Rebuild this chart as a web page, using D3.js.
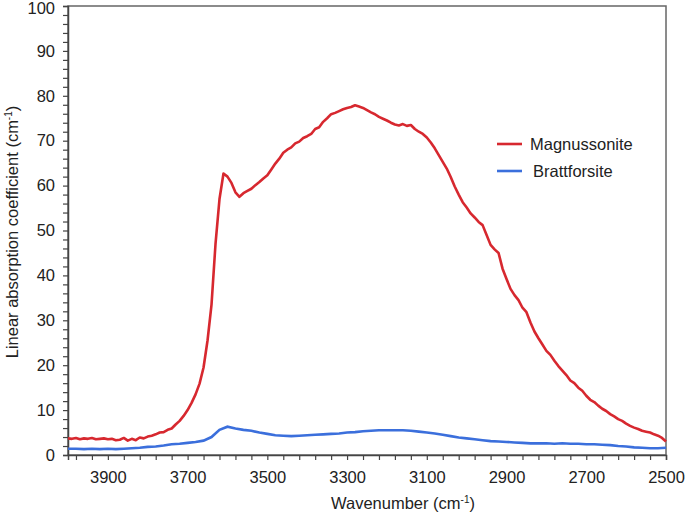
<!DOCTYPE html>
<html>
<head>
<meta charset="utf-8">
<script src="https://cdn.jsdelivr.net/npm/d3@7.9.0/dist/d3.min.js"></script>
<style>
  body { margin: 0; background: #fff; }
  svg { display: block; font-family: "Liberation Sans", Arial, sans-serif; }
</style>
</head>
<body>
<svg id="chart" width="685" height="518"></svg>
<script>
// wavenumber grids (cm-1), high to low
const redWn = d3.range(4000, 2499, -10);
const blueWn = d3.range(4000, 2499, -20);

// Magnussonite, every 10 cm-1
const magnussonite = [
  3.7, 3.6, 3.8, 3.5, 3.7, 3.6, 3.8, 3.5, 3.6, 3.7,
  3.5, 3.6, 3.3, 3.4, 3.8, 3.2, 3.6, 3.3, 3.9, 3.7,
  4.1, 4.3, 4.6, 5.0, 5.1, 5.6, 5.9, 6.8, 7.6, 8.7,
  10.0, 11.6, 13.5, 15.9, 19.5, 25.5, 33.5, 47.0, 57.0, 62.7,
  62.0, 60.6, 58.5, 57.5, 58.3, 58.8, 59.3, 60.1, 60.8, 61.6,
  62.3, 63.6, 64.9, 66.0, 67.3, 68.0, 68.5, 69.4, 69.8, 70.6,
  71.0, 71.5, 72.6, 73.0, 74.2, 75.0, 75.9, 76.2, 76.6, 77.0,
  77.3, 77.5, 77.9, 77.6, 77.3, 76.8, 76.3, 75.9, 75.3, 74.9,
  74.5, 74.0, 73.6, 73.4, 73.7, 73.3, 73.5, 72.6, 72.0, 71.5,
  70.7, 69.6, 68.3, 66.8, 65.3, 63.8, 61.9, 59.8, 58.0, 56.3,
  55.1, 53.8, 52.9, 51.9, 51.2, 49.0, 46.8, 45.8, 45.0, 41.5,
  39.2, 37.0, 35.6, 34.5, 32.8, 31.8, 29.5, 27.5, 26.0, 24.6,
  23.2, 22.3, 21.0, 19.8, 18.8, 17.8, 16.6, 16.0, 15.0, 14.3,
  13.2, 12.3, 11.8, 11.0, 10.3, 9.8, 9.1, 8.6, 8.0, 7.6,
  7.0, 6.5, 6.1, 5.8, 5.4, 5.2, 5.0, 4.6, 4.3, 3.8,
  3.0
];

// Brattforsite, every 20 cm-1
const brattforsite = [
  1.4, 1.4, 1.3, 1.4, 1.3, 1.4, 1.3, 1.4, 1.5, 1.6,
  1.8, 1.9, 2.1, 2.4, 2.5, 2.7, 2.9, 3.2, 4.0, 5.6,
  6.3, 5.9, 5.6, 5.4, 5.0, 4.7, 4.4, 4.3, 4.2, 4.3,
  4.4, 4.5, 4.6, 4.7, 4.8, 5.0, 5.1, 5.3, 5.4, 5.5,
  5.5, 5.5, 5.5, 5.4, 5.2, 5.0, 4.8, 4.5, 4.2, 3.9,
  3.7, 3.5, 3.3, 3.1, 3.0, 2.9, 2.8, 2.7, 2.6, 2.6,
  2.6, 2.5, 2.6, 2.5, 2.5, 2.4, 2.4, 2.3, 2.2, 2.0,
  1.9, 1.7, 1.6, 1.5, 1.5, 1.6
];

const xLabels = [3900, 3700, 3500, 3300, 3100, 2900, 2700, 2500];
const yLabels = [0, 10, 20, 30, 40, 50, 60, 70, 80, 90, 100];
const seriesNames = ["Magnussonite", "Brattforsite"];
const seriesColors = ["#d7282f", "#3b6fdc"];

const svg = d3.select("#chart");
const plotLeft = 68, plotRight = 666, plotTop = 6, plotBottom = 455;

const x = d3.scaleLinear().domain([4000, 2500]).range([plotLeft, plotRight]);
const y = d3.scaleLinear().domain([0, 100]).range([plotBottom, plotTop]);

// frame
svg.append("rect")
  .attr("x", plotLeft).attr("y", plotTop)
  .attr("width", plotRight - plotLeft).attr("height", plotBottom - plotTop)
  .attr("fill", "none").attr("stroke", "#666").attr("stroke-width", 1.5);

// x axis: minor ticks every 40, labels every 200
const xAxis = d3.axisBottom(x)
  .tickValues(d3.range(2500, 4001, 40))
  .tickSize(5).tickPadding(11)
  .tickFormat(d => xLabels.includes(d) ? d : "");
const gx = svg.append("g").attr("transform", `translate(0,${plotBottom})`).call(xAxis);

const yAxis = d3.axisLeft(y)
  .tickValues(d3.range(0, 101, 2))
  .tickSize(5).tickPadding(8)
  .tickFormat(d => yLabels.includes(d) ? d : "");
const gy = svg.append("g").attr("transform", `translate(${plotLeft},0)`).call(yAxis);

[gx, gy].forEach(g => {
  g.select(".domain").attr("stroke", "#444").attr("stroke-width", 1.5);
  g.selectAll(".tick line").attr("stroke", "#444").attr("stroke-width", 1.2);
  g.selectAll(".tick text")
    .attr("fill", "#222")
    .style("font-family", '"Liberation Sans", Arial, sans-serif')
    .style("font-size", "16.5px");
});
// keep the top label inside the page
gy.selectAll(".tick text").filter(d => d === 100).attr("y", 2);

// lines
const line = d3.line().x(d => x(d[0])).y(d => y(d[1]));
const blueData = blueWn.map((w, i) => [w, brattforsite[i]]).filter(d => d[1] != null);
const redData = redWn.map((w, i) => [w, magnussonite[i]]).filter(d => d[1] != null);

svg.append("path").datum(blueData)
  .attr("d", line).attr("fill", "none")
  .attr("stroke", seriesColors[1]).attr("stroke-width", 2.6);
svg.append("path").datum(redData)
  .attr("d", line).attr("fill", "none")
  .attr("stroke", seriesColors[0]).attr("stroke-width", 2.6)
  .attr("stroke-linejoin", "round");

// legend
const legend = svg.append("g");
seriesNames.forEach((name, i) => {
  const ly = 144 + i * 27;
  legend.append("line")
    .attr("x1", 497).attr("x2", 522).attr("y1", ly).attr("y2", ly)
    .attr("stroke", seriesColors[i]).attr("stroke-width", 2.6);
  legend.append("text")
    .attr("x", i === 0 ? 530 : 533).attr("y", ly + 6)
    .attr("fill", "#222").style("font-size", "16.5px")
    .text(name);
});

// axis titles
const xt = svg.append("text")
  .attr("x", 403).attr("y", 509)
  .attr("text-anchor", "middle")
  .attr("fill", "#222").style("font-size", "16.5px");
xt.append("tspan").text("Wavenumber (cm");
xt.append("tspan").attr("dy", -6).style("font-size", "10px").text("-1");
xt.append("tspan").attr("dy", 6).text(")");

const yt = svg.append("text")
  .attr("transform", "translate(18,232) rotate(-90)")
  .attr("text-anchor", "middle")
  .attr("fill", "#222").style("font-size", "16.5px");
yt.append("tspan").text("Linear absorption coefficient (cm");
yt.append("tspan").attr("dy", -6).style("font-size", "10px").text("-1");
yt.append("tspan").attr("dy", 6).text(")");
</script>
</body>
</html>
